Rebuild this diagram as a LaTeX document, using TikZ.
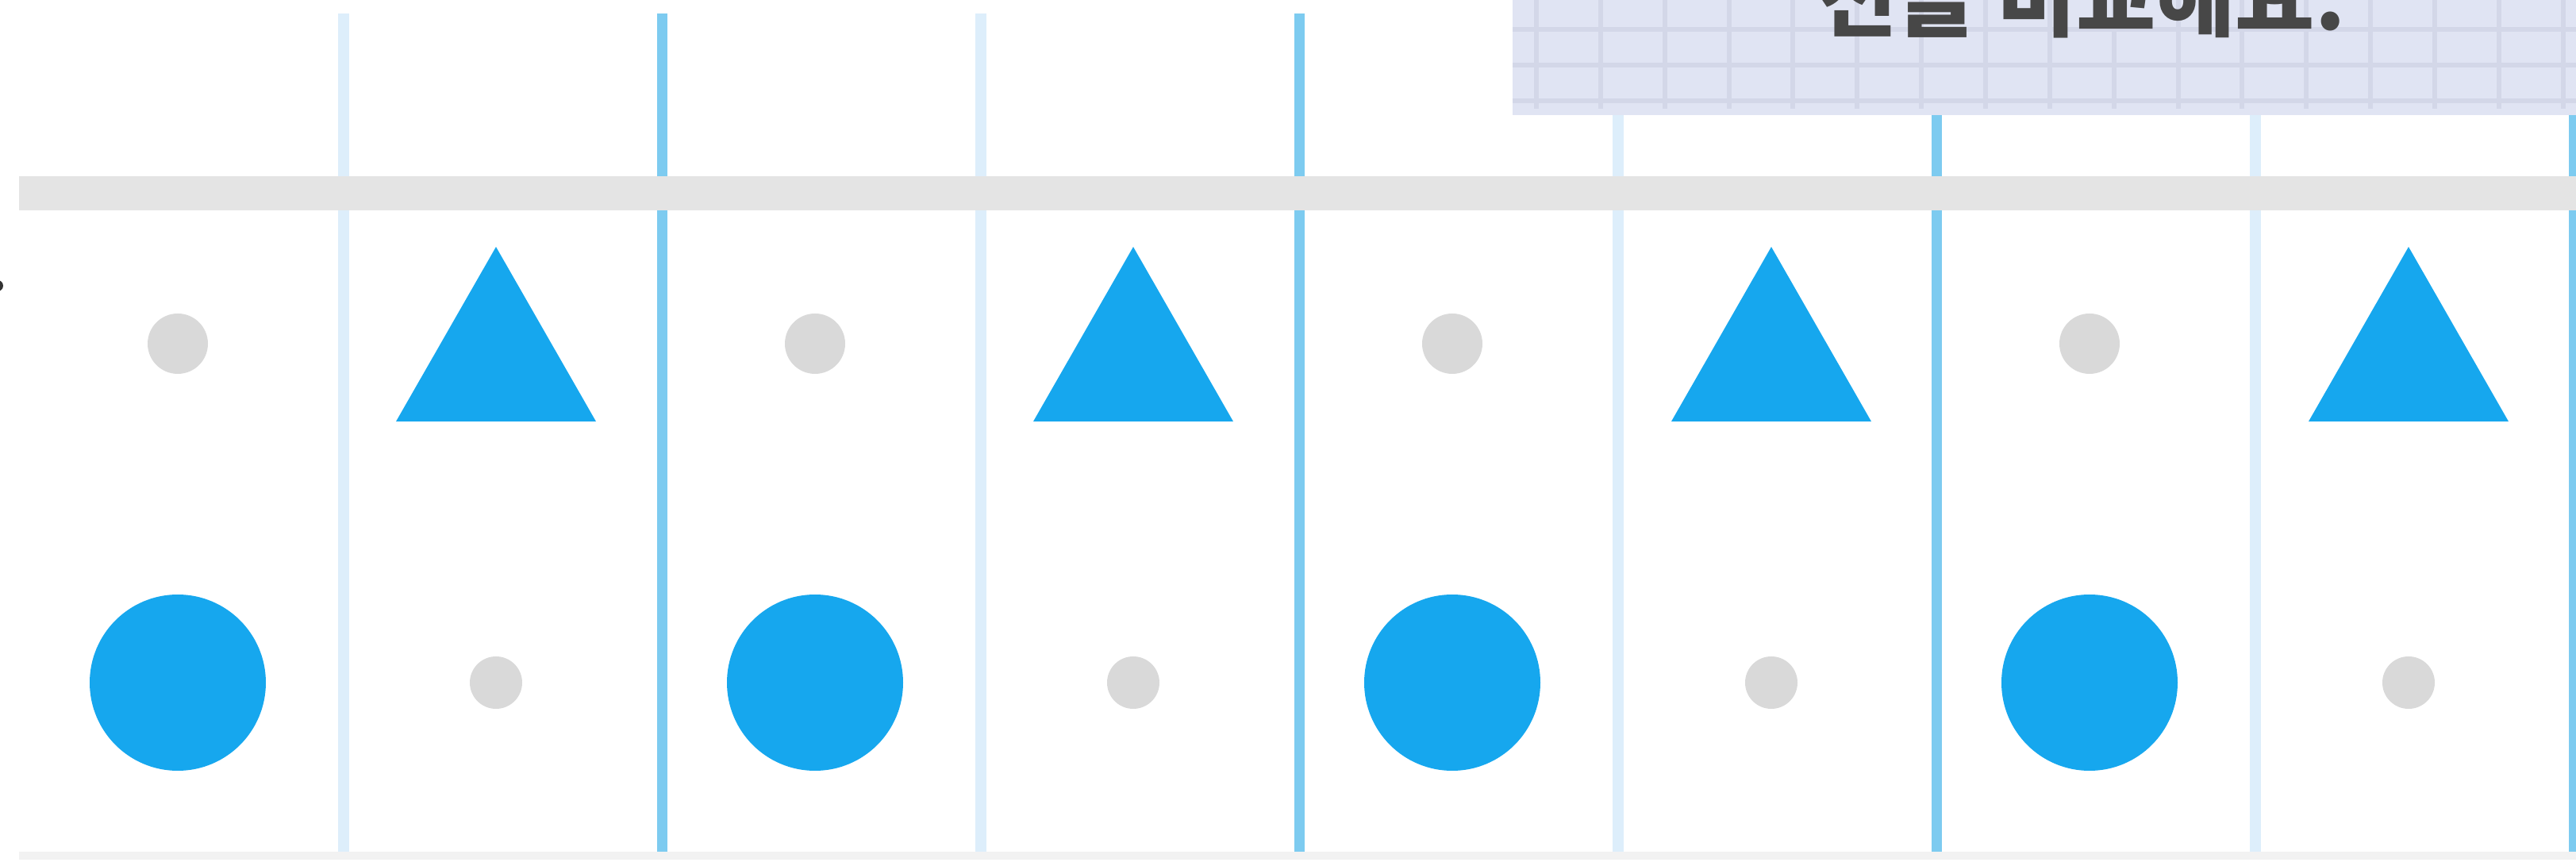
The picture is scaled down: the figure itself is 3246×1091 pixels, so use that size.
\documentclass[tikz,border=0pt]{standalone}
\usepackage{fontspec}
\newfontfamily\krfont{Noto Sans CJK KR}
\definecolor{markblue}{RGB}{22,167,238}
\definecolor{ruledark}{RGB}{125,203,240}
\definecolor{rulelight}{RGB}{221,238,251}
\definecolor{bandgrey}{RGB}{228,228,228}
\definecolor{dotgrey}{RGB}{217,217,217}
\definecolor{floorgrey}{RGB}{242,242,242}
\definecolor{notefill}{RGB}{224,228,243}
\definecolor{notegrid}{RGB}{211,215,232}
\definecolor{noteink}{RGB}{71,71,71}
\begin{document}
\begin{tikzpicture}[x=0.1mm,y=-0.1mm,
  lightrule/.style={draw=rulelight,line width=1.4mm},
  darkrule/.style={draw=ruledark,line width=1.3mm},
  gridline/.style={draw=notegrid,line width=0.6mm}]
\useasboundingbox (0,0) rectangle (3246,1091);
% column rules
\foreach \x in {433,1236,2039,2842}
 \draw[lightrule] (\x,17) -- (\x,1073);
\foreach \x in {834,1637,2440,3243}
 \draw[darkrule] (\x,17) -- (\x,1073);
\fill[bandgrey] (24,222) rectangle (3246,265);
\fill[floorgrey] (24,1073) rectangle (3246,1083);
\fill[black!80] (-3,360) circle (0.7mm);
% repeating pattern
\foreach \c/\t in {224/625,1027/1428,1830/2232,2633/3035}{
 \fill[dotgrey] (\c,433) circle (3.8mm);
 \fill[markblue] (\t,311) -- (\t+126,531) -- (\t-126,531) -- cycle;
 \fill[markblue] (\c,860) circle (11.1mm);
 \fill[dotgrey] (\t,860) circle (3.3mm);
}
% note card, top right
\fill[notefill] (1906,0) rectangle (3246,145);
\foreach \k in {0,...,16}
 \draw[gridline] ({1936+80.86*\k},0) -- ({1936+80.86*\k},137);
\foreach \y in {37,82,127}
 \draw[gridline] (1906,\y) -- (3246,\y);
\begin{scope}
 \clip (1906,0) rectangle (3246,145);
 \node[anchor=base west,inner sep=0pt,text=noteink,font=\krfont\bfseries\fontsize{31}{36}\selectfont] (note) at (2290,38) {선을 비교해요.};
\end{scope}
\end{tikzpicture}
\end{document}
